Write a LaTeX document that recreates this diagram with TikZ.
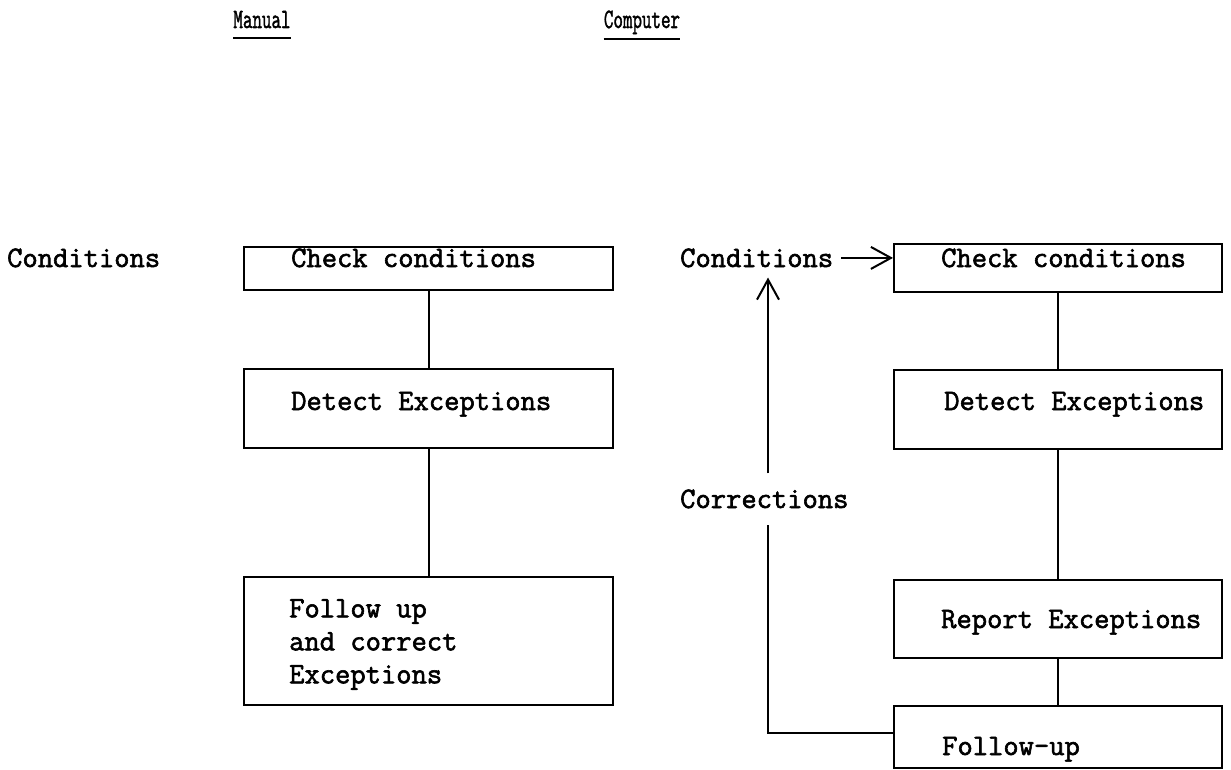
\documentclass[tikz,border=0pt]{standalone}
\usepackage{fontspec}
\usetikzlibrary{arrows.meta}
\newfontfamily\typer{Latin Modern Mono}[FakeBold=2]
\begin{document}
\begin{tikzpicture}[x=1pt,y=-1pt,
  box/.style={draw, line width=2pt, rectangle, inner sep=0pt},
  link/.style={line width=2pt},
  flow/.style={line width=2pt, -{Straight Barb[length=20pt,width=22pt,line width=2pt]}},
  txt/.style={font=\typer\fontsize{29.7}{33}\selectfont, inner sep=0pt, anchor=base west, align=left},
  head/.style={font=\typer\fontsize{28}{32}\selectfont, inner sep=0pt, anchor=base},
  uline/.style={line width=2.2pt}]
\useasboundingbox (0,0) rectangle (1231,770);

% column headings
\node[head] (man) at (262,28) {\scalebox{0.66}[1]{Manual}};
\node[head] (comp) at (642,28) {\scalebox{0.66}[1]{Computer}};
\draw[uline] ([yshift=-10pt]man.base west) -- ([yshift=-10pt]man.base east);
\draw[uline] ([yshift=-11pt]comp.base west) -- ([yshift=-11pt]comp.base east);

% manual procedure
\node[box, minimum width=369pt, minimum height=43pt] (lc) at (428.5,268.5) {};
\node[box, minimum width=369pt, minimum height=79pt] (ld) at (428.5,408.5) {};
\node[box, minimum width=369pt, minimum height=128pt] (lf) at (428.5,641) {};
\node[txt] (lcond) at (7,267) {Conditions};
\node[txt] (lct) at (291,267) {Check conditions};
\node[txt] (ldt) at (291,410) {Detect Exceptions};
\node[txt, anchor=north west] (lft) at (289,599) {Follow up\\and correct\\Exceptions};
\draw[link] (lc) -- (ld);
\draw[link] (ld) -- (lf);

% computer procedure
\node[box, minimum width=328pt, minimum height=48pt] (rc) at (1058,268) {};
\node[box, minimum width=328pt, minimum height=79pt] (rd) at (1058,409.5) {};
\node[box, minimum width=328pt, minimum height=78pt] (rr) at (1058,619) {};
\node[box, minimum width=328pt, minimum height=62pt] (rf) at (1058,737) {};
\node[txt] (rct) at (941,267) {Check conditions};
\node[txt] (rdt) at (944,410) {Detect Exceptions};
\node[txt] (rrt) at (941,628) {Report Exceptions};
\node[txt] (rft) at (942,755) {Follow-up};
\draw[link] (rc) -- (rd);
\draw[link] (rd) -- (rr);
\draw[link] (rr) -- (rf);

% inputs and correction loop
\node[txt, inner xsep=8pt, inner ysep=10pt] (rcond) at (672,267) {Conditions};
\node[txt, inner ysep=16pt] (corr) at (680,508) {Corrections};
\coordinate (turn) at (768,733);
\draw[flow] (rcond.east) -- (rcond.east -| rc.west);
\draw[link] (rf.west |- turn) -- (turn) -- (turn |- corr.south);
\draw[flow] (turn |- corr.north) -- (turn |- rcond.south);
\end{tikzpicture}
\end{document}
